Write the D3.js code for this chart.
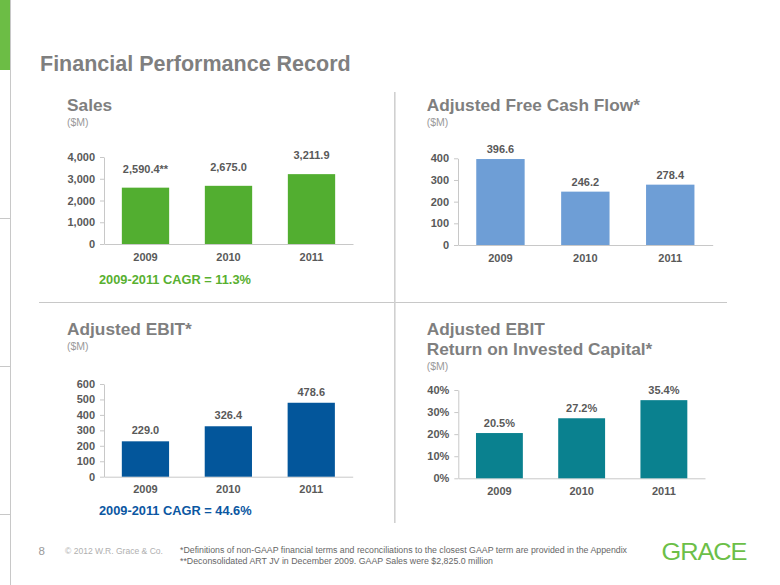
<!DOCTYPE html>
<html>
<head>
<meta charset="utf-8">
<script src="https://cdn.jsdelivr.net/npm/d3@7"></script>
<style>
  html, body { margin: 0; padding: 0; background: #ffffff; }
  svg { display: block; font-family: "Liberation Sans", Arial, sans-serif; }
</style>
</head>
<body>
<svg id="chart" width="780" height="585"></svg>
<script>
// ---------- data ----------
const years = ["2009", "2010", "2011"];

const salesValues = [2590.4, 2675.0, 3211.9];
const salesLabels = ["2,590.4**", "2,675.0", "3,211.9"];
const salesTicks = [0, 1000, 2000, 3000, 4000];

const fcfValues = [396.6, 246.2, 278.4];
const fcfLabels = ["396.6", "246.2", "278.4"];
const fcfTicks = [0, 100, 200, 300, 400];

const ebitValues = [229.0, 326.4, 478.6];
const ebitLabels = ["229.0", "326.4", "478.6"];
const ebitTicks = [0, 100, 200, 300, 400, 500, 600];

const roicValues = [20.5, 27.2, 35.4];
const roicLabels = ["20.5%", "27.2%", "35.4%"];
const roicTicks = [0, 10, 20, 30, 40];

const salesCagr = "2009-2011 CAGR = 11.3%";
const ebitCagr = "2009-2011 CAGR = 44.6%";

// ---------- drawing ----------
const svg = d3.select("#chart");
const gray = "#7f7f7f";
const lineGray = "#c8c8c8";

// page frame decorations
svg.append("rect").attr("x", 0).attr("y", 0).attr("width", 10).attr("height", 70).attr("fill", "#6cbd45");
svg.append("line").attr("x1", 10.5).attr("x2", 10.5).attr("y1", 0).attr("y2", 585)
  .attr("stroke", lineGray).attr("stroke-width", 1);
[218, 366, 514].forEach(y => {
  svg.append("line").attr("x1", 0).attr("x2", 10.5).attr("y1", y + 0.5).attr("y2", y + 0.5)
    .attr("stroke", lineGray).attr("stroke-width", 1);
});
// quadrant dividers
svg.append("line").attr("x1", 39).attr("x2", 727).attr("y1", 302.5).attr("y2", 302.5)
  .attr("stroke", lineGray).attr("stroke-width", 1.2);
svg.append("line").attr("x1", 394.8).attr("x2", 394.8).attr("y1", 92).attr("y2", 523)
  .attr("stroke", "#d0d0d0").attr("stroke-width", 1.6);

// main title
svg.append("text").attr("x", 40).attr("y", 71)
  .attr("font-size", 21.5).attr("font-weight", "bold").attr("fill", gray)
  .text("Financial Performance Record");

function panel(cfg) {
  // titles
  cfg.titles.forEach((t, i) => {
    svg.append("text").attr("x", cfg.tx).attr("y", cfg.ty + i * 20)
      .attr("font-size", 17.3).attr("font-weight", "bold").attr("fill", gray).text(t);
  });
  svg.append("text").attr("x", cfg.tx).attr("y", cfg.ty + (cfg.titles.length - 1) * 20 + 15.3)
    .attr("font-size", 10.5).attr("fill", "#9a9a9a").text("($M)");

  const x = d3.scaleBand().domain(years).range([cfg.x0, cfg.x1])
    .paddingInner(0.43).paddingOuter(0.215);
  const y = d3.scaleLinear().domain([0, cfg.max]).range([cfg.y0, cfg.yTop]);

  const yAxis = d3.axisLeft(y).tickValues(cfg.ticks).tickSize(4).tickSizeOuter(0)
    .tickPadding(5).tickFormat(cfg.fmt);
  const gy = svg.append("g").attr("transform", `translate(${cfg.x0},0)`).call(yAxis);
  gy.select(".domain").attr("stroke", lineGray);
  gy.selectAll(".tick line").attr("stroke", lineGray);
  gy.selectAll(".tick text").attr("fill", "#595959").attr("font-size", 11)
    .attr("font-weight", "bold").attr("font-family", "Liberation Sans, Arial, sans-serif");

  const xAxis = d3.axisBottom(x).tickSize(0).tickSizeOuter(0).tickPadding(9);
  const gx = svg.append("g").attr("transform", `translate(0,${cfg.y0})`).call(xAxis);
  gx.select(".domain").attr("stroke", lineGray);
  gx.selectAll(".tick text").attr("fill", "#595959").attr("font-size", 11)
    .attr("font-weight", "bold").attr("font-family", "Liberation Sans, Arial, sans-serif");

  svg.append("g").selectAll("rect").data(cfg.values).join("rect")
    .attr("x", (d, i) => x(years[i]))
    .attr("y", d => y(d))
    .attr("width", x.bandwidth())
    .attr("height", d => y(0) - y(d))
    .attr("fill", cfg.color);

  svg.append("g").selectAll("text").data(cfg.values).join("text")
    .attr("x", (d, i) => x(years[i]) + x.bandwidth() / 2)
    .attr("y", d => y(d) - cfg.labelOff)
    .attr("text-anchor", "middle")
    .attr("font-size", 11).attr("font-weight", "bold").attr("fill", "#595959")
    .text((d, i) => cfg.labels[i]);

  if (cfg.cagr) {
    svg.append("text").attr("x", cfg.x0 - 5).attr("y", cfg.cagrY)
      .attr("font-size", 12.8).attr("font-weight", "bold").attr("fill", cfg.cagrColor)
      .text(cfg.cagr);
  }
}

panel({
  titles: ["Sales"], tx: 67, ty: 111,
  x0: 104, x1: 353, y0: 244, yTop: 157, max: 4000,
  ticks: salesTicks, fmt: d3.format(","), values: salesValues, labels: salesLabels,
  color: "#52ae30", labelOff: 15,
  cagr: salesCagr, cagrY: 283.5, cagrColor: "#58b030"
});

panel({
  titles: ["Adjusted Free Cash Flow*"], tx: 426.7, ty: 110.7,
  x0: 458, x1: 712.7, y0: 245, yTop: 158.3, max: 400,
  ticks: fcfTicks, fmt: d3.format("d"), values: fcfValues, labels: fcfLabels,
  color: "#6e9ed6", labelOff: 6
});

panel({
  titles: ["Adjusted EBIT*"], tx: 67, ty: 335,
  x0: 104, x1: 352.7, y0: 476.7, yTop: 384, max: 600,
  ticks: ebitTicks, fmt: d3.format("d"), values: ebitValues, labels: ebitLabels,
  color: "#03569b", labelOff: 7,
  cagr: ebitCagr, cagrY: 515, cagrColor: "#0b57a2"
});

panel({
  titles: ["Adjusted EBIT", "Return on Invested Capital*"], tx: 426.7, ty: 335,
  x0: 458.3, x1: 705, y0: 478.3, yTop: 390, max: 40,
  ticks: roicTicks, fmt: d => d + "%", values: roicValues, labels: roicLabels,
  color: "#0a818f", labelOff: 6
});

// footer
svg.append("text").attr("x", 38.5).attr("y", 554.5).attr("font-size", 11.5).attr("fill", "#9a9a9a").text("8");
svg.append("text").attr("x", 65).attr("y", 554).attr("font-size", 9).attr("fill", "#b0b0b0")
  .attr("textLength", 98).attr("lengthAdjust", "spacingAndGlyphs").text("\u00A9 2012 W.R. Grace & Co.");
svg.append("text").attr("x", 180).attr("y", 553.3).attr("font-size", 8.3).attr("fill", "#666666")
  .attr("textLength", 447).attr("lengthAdjust", "spacingAndGlyphs")
  .text("*Definitions of non-GAAP financial terms and reconciliations to the closest GAAP term are provided in the Appendix");
svg.append("text").attr("x", 180).attr("y", 563.5).attr("font-size", 8.3).attr("fill", "#666666")
  .attr("textLength", 313).attr("lengthAdjust", "spacingAndGlyphs")
  .text("**Deconsolidated ART JV in December 2009. GAAP Sales were $2,825.0 million");
svg.append("text").attr("x", 661.5).attr("y", 559.5).attr("font-size", 24.5).attr("fill", "#6cbf48")
  .attr("textLength", 85).attr("lengthAdjust", "spacingAndGlyphs").attr("letter-spacing", -1)
  .text("GRACE");
</script>
</body>
</html>
